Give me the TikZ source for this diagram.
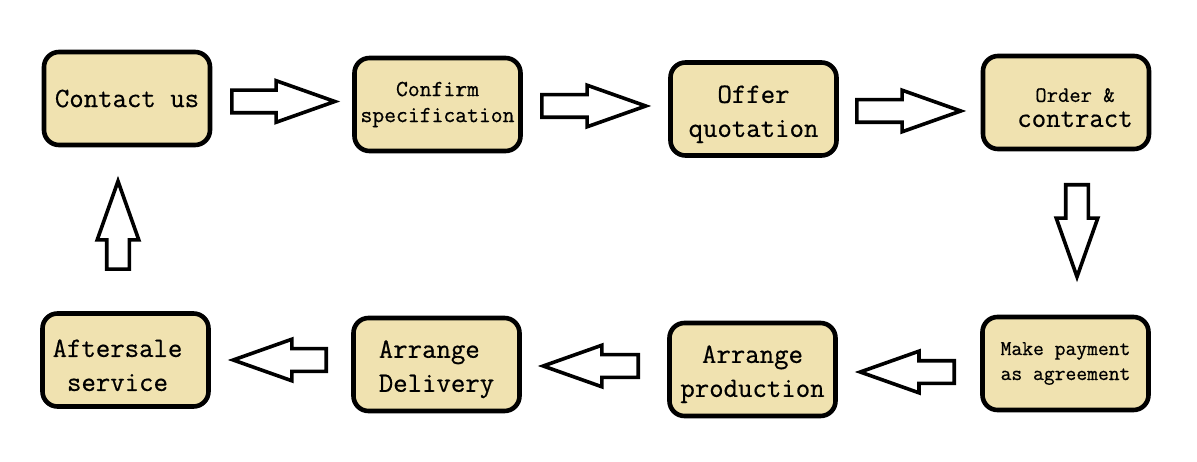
\documentclass[tikz,border=0pt]{standalone}
\usepackage{fontspec}
\newfontfamily\boxfont{Latin Modern Mono}[FakeBold=0.6]
\usetikzlibrary{shapes.arrows}
\definecolor{boxfill}{HTML}{F0E2B0}
\begin{document}
\begin{tikzpicture}[x=1pt,y=-1pt,
  box/.style={draw=black, line width=4.6pt, rounded corners=15pt, fill=boxfill,
    minimum width=166pt, minimum height=93pt, inner sep=0pt, align=center,
    font=\boxfont\fontsize{28}{34}\selectfont},
  smalltxt/.style={font=\boxfont\fontsize{23}{26}\selectfont},
  tinytxt/.style={font=\boxfont\fontsize{21}{25}\selectfont},
  barrow/.style={single arrow, draw=black, line width=3.6pt, fill=white,
    inner xsep=0pt, inner ysep=9.5pt, minimum width=38pt,
    single arrow head extend=9.5pt, single arrow tip angle=39,
    single arrow head indent=0pt, minimum height=#1, anchor=tail}
]
\useasboundingbox (0,0) rectangle (1197,462);
% boxes
\node[box] (contact) at (127,98.5) {Contact us};
\node[box, smalltxt] (confirm) at (437.5,104.5) {Confirm\\specification};
\node[box] (offer) at (753.5,109) {\rule{0pt}{28pt}Offer\\quotation};
\node[box, font=\boxfont\fontsize{28}{25}\selectfont] (order) at (1066,102.5)
  {\rule{0pt}{24pt}\hspace*{18pt}{\fontsize{22}{25}\selectfont Order \&}\\\hspace*{18pt}contract};
\node[box, tinytxt] (payment) at (1065.5,363.5) {Make payment\\as agreement};
\node[box] (production) at (752.5,369.5) {\rule{0pt}{27pt}Arrange\\production};
\node[box, align=left] (delivery) at (436.5,364.5) {\rule{0pt}{27pt}Arrange\\Delivery};
\node[box] (aftersale) at (125.5,360) {\rule{0pt}{28pt}Aftersale\hspace*{16pt}\\service\hspace*{16pt}};
% block arrows
\node[barrow=103pt] (a1) at (230,101.5) {};
\node[barrow=104pt] (a2) at (540,106) {};
\node[barrow=104pt] (a3) at (855,111) {};
\node[barrow=92pt, rotate=-90] (a4) at (1077,183) {};
\node[barrow=94pt, rotate=180] (a5) at (956,372) {};
\node[barrow=95pt, rotate=180] (a6) at (640,366) {};
\node[barrow=93pt, rotate=180] (a7) at (328,360) {};
\node[barrow=88pt, rotate=90] (a8) at (118,271) {};
\end{tikzpicture}
\end{document}
